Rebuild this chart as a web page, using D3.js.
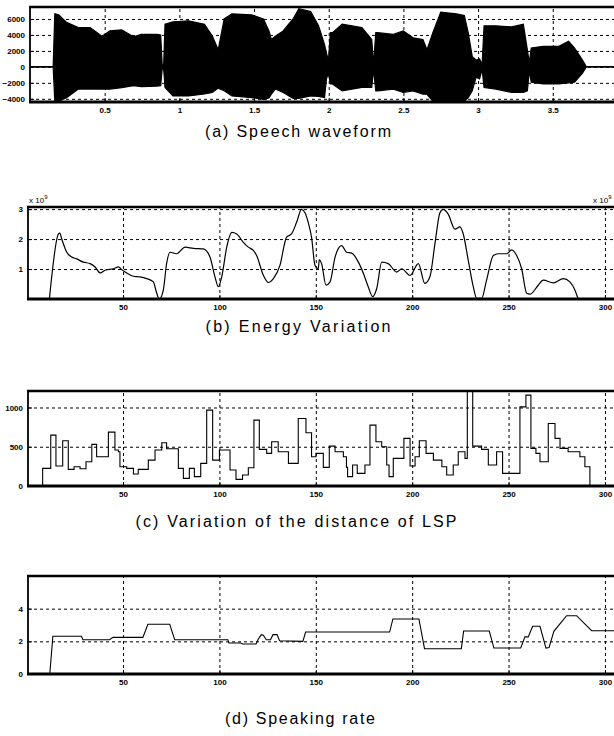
<!DOCTYPE html>
<html>
<head>
<meta charset="utf-8">
<script src="https://cdn.jsdelivr.net/npm/d3@7"></script>
<style>
  body { margin: 0; background: #fff; }
  svg { display: block; }
  .axis text { font-family: "Liberation Sans Narrow", "Liberation Sans", Arial, sans-serif; font-size: 8px; font-weight: bold; fill: #000; }
  .caption { font-family: "Liberation Sans", Arial, sans-serif; font-size: 16px; fill: #000; }
  .mult { font-family: "Liberation Sans", Arial, sans-serif; font-size: 8px; fill: #000; }
</style>
</head>
<body>
<svg id="chart" width="614" height="736"></svg>
<script>
// (a) speech waveform envelope: time (s), upper and lower amplitude
const waveTime  = [0, 0.15, 0.155, 0.166, 0.192, 0.245, 0.324, 0.403, 0.482, 0.535, 0.614, 0.693, 0.746, 0.851, 0.875, 0.885, 0.895,
  0.904, 0.957, 1.062, 1.168, 1.221, 1.26, 1.3, 1.352, 1.484, 1.563, 1.6, 1.616, 1.642, 1.695, 1.761, 1.8, 1.879, 1.932, 1.972, 1.985, 1.998,
  2.011, 2.025, 2.09, 2.222, 2.288, 2.3, 2.315, 2.328, 2.433, 2.499, 2.565, 2.631, 2.658, 2.697, 2.75, 2.855, 2.908, 2.934, 2.961, 2.987,
  3.01, 3.027, 3.04, 3.119, 3.224, 3.303, 3.33, 3.343, 3.356, 3.435, 3.541, 3.606, 3.646, 3.699, 3.725, 3.92];
const waveUpper = [0, 0, 0, 6640, 6510, 5570, 4930, 4930, 3850, 4500, 4630, 3770, 4070, 4070, 4000, 300, 300,
  5350, 5650, 5780, 5350, 3850, 2140, 6000, 6640, 6510, 6000, 4500, 3430, 3850, 4500, 6000, 7280, 6940, 5140, 2780, 1710, 800,
  4280, 4280, 5350, 4930, 3430, 300, 4280, 4280, 4070, 4500, 3640, 3430, 2140, 4280, 6850, 6640, 6420, 4280, 1280, 860,
  1000, 300, 5140, 5140, 5000, 5350, 2140, 500, 2360, 2570, 2570, 3210, 2360, 860, 0, 0];
const waveLower = [0, 0, 0, -4280, -4280, -3850, -2780, -2780, -2780, -2780, -2600, -2360, -2480, -2400, -2360, -300, -300,
  -2570, -3640, -3640, -3400, -3210, -2660, -3000, -3640, -3850, -4070, -3900, -3430, -2780, -3210, -3940, -3940, -3640, -3700, -3850, -1500, -800,
  -2140, -2140, -3000, -2570, -2570, -300, -3000, -3000, -2780, -3210, -3000, -3430, -3430, -4280, -4280, -4280, -4280, -3850, -3000, -1280,
  -1500, -300, -2570, -2780, -3210, -3210, -3000, -500, -1930, -2140, -2140, -2000, -1930, -800, 0, 0];
const waveXTicks = [0.5, 1, 1.5, 2, 2.5, 3, 3.5];
const waveYTicks = [-4000, -2000, 0, 2000, 4000, 6000];

// (b) energy (x 10^9) per frame
const energyFrame = [11.8, 16.5, 17.2, 18.2, 20.8, 23.4, 25.9, 29.4, 32.9, 35.5, 38.1, 40.7, 45, 47.6, 49.3, 51.9, 55.4, 58.8, 62.3, 65.7, 67.5, 68.8,
  70.9, 72.6, 74.4, 77.8, 82.2, 86.5, 91.7, 95.1, 97.7, 99.4, 101.2, 103.8, 106.4, 109, 112.4, 115, 117.6, 119.3, 122.8, 125.4, 128, 131.4,
  134.8, 137.4, 140, 142.6, 144.4, 146.1, 147.8, 149.6, 151.3, 151.8, 153, 155.3, 157.4, 160, 163.4, 166, 168.6, 172.1, 174.7, 177.2, 179.5,
  181.6, 184.2, 187.6, 192, 194.6, 198.9, 203.2, 206.6, 209.2, 211.8, 214.4, 216.1, 218.7, 222.2, 224.8, 226.5, 229.1, 231.7, 233.5, 236,
  238.6, 242.1, 244.7, 249, 251.6, 254.2, 256.8, 259.4, 261.1, 265.4, 268, 273.2, 278.4, 281.8, 284.4, 286.1];
const energyValue = [0, 2.17, 2.2, 2.0, 1.56, 1.4, 1.34, 1.23, 1.18, 1.07, 0.87, 0.96, 1.01, 1.07, 0.98, 0.87, 0.76, 0.74, 0.68, 0.57, 0.19, 0,
  0.3, 1.18, 1.56, 1.51, 1.73, 1.69, 1.67, 1.4, 0.74, 0.41, 0.74, 1.73, 2.22, 2.17, 1.89, 1.73, 1.62, 1.45, 0.79, 0.55, 0.68, 1.12,
  2.06, 2.17, 2.55, 2.99, 2.88, 2.55, 2.06, 1.12, 1.01, 1.31, 1.18, 0.46, 0.57, 1.4, 1.78, 1.56, 1.53, 1.23, 0.85, 0.41, 0.08,
  0.35, 1.23, 1.18, 0.9, 1.01, 0.79, 1.18, 0.52, 0.74, 1.84, 2.88, 2.99, 2.83, 2.33, 2.41, 2.17, 1.29, 0.41, 0.02, 0.02,
  0.63, 1.45, 1.51, 1.51, 1.64, 1.45, 1.01, 0.19, 0.16, 0.46, 0.63, 0.54, 0.68, 0.57, 0.3, 0];
const energyYTicks = [1, 2, 3];

// (c) LSP distance per frame (step values)
const lspFrame = [1, 8.3, 9.5, 12.5, 15.2, 18.7, 21.6, 24.6, 27.7, 30.8, 33.8, 36.3, 38.9, 42.4, 45.8, 47.6, 48.4, 51.9, 55.4, 57.9, 63.1,
  66.6, 70.1, 72.6, 78.7, 81.3, 84.4, 87, 90.3, 93.4, 96.5, 100, 105.5, 108.6, 112, 115, 117.9, 120.7, 124.5, 127.1, 130.5, 135.8, 140.9,
  144.9, 147.8, 150.1, 153.9, 157, 160, 164.3, 165.9, 166.5, 169.1, 171.5, 175.5, 178.1, 181.2, 184.2, 186.8, 188, 190.2, 195.7, 198.9,
  201.5, 203.7, 207.2, 211, 215.4, 217.9, 221.3, 223.9, 227.4, 228.6, 231.4, 236, 239.5, 243.8, 246.9, 255.9, 259, 261.6, 264.2, 266.3,
  270.6, 274.1, 276.7, 280.9, 287, 289.6, 292.2];
const lspValue = [0, 225, 225, 648, 254, 576, 212, 246, 220, 309, 530, 373, 373, 686, 458, 436, 246, 225, 153, 212, 330,
  458, 551, 475, 225, 97, 225, 119, 288, 966, 330, 458, 203, 85, 140, 233, 839, 466, 415, 564, 436, 288, 860,
  678, 373, 415, 237, 508, 436, 373, 237, 119, 267, 161, 267, 775, 564, 500, 267, 119, 352, 606, 254,
  373, 576, 415, 330, 246, 140, 267, 436, 352, 1210, 508, 466, 267, 436, 161, 1008, 1157, 479, 415, 309,
  797, 606, 479, 436, 373, 246, 0];
const lspYTicks = [0, 500, 1000];

// (d) speaking rate per frame
const rateFrame = [1, 12, 13.6, 28.4, 29.2, 43, 44.8, 60.3, 62.9, 74.2, 76.8, 104.4, 104.9, 111, 112.2, 119, 120, 121.7, 122.8, 124.3,
  126.5, 127.8, 129.9, 131.2, 143.3, 144.7, 188.3, 190, 203.5, 206.4, 225.5, 226.7, 240, 242.4, 256.3, 258.5, 260.2, 262.5, 266.3, 269.4,
  271, 273.5, 280.1, 285.3, 293.1, 305];
const rateValue = [0, 0, 2.31, 2.31, 2.1, 2.1, 2.24, 2.24, 3.05, 3.05, 2.1, 2.1, 1.9, 1.9, 1.84, 1.84, 2.1, 2.41, 2.38, 2.1,
  2.1, 2.41, 2.41, 2.04, 2.0, 2.57, 2.57, 3.37, 3.37, 1.55, 1.55, 2.63, 2.63, 1.59, 1.59, 2.27, 2.27, 2.92, 2.92, 1.59,
  1.62, 2.61, 3.57, 3.57, 2.65, 2.65];
const rateYTicks = [0, 2, 4];

const frameTicks = [50, 100, 150, 200, 250, 300];

const svg = d3.select("#chart");

function panel (cfg) {
  const g = svg.append("g");
  const x = d3.scaleLinear().domain(cfg.xDomain).range([cfg.left, cfg.right]);
  const y = d3.scaleLinear().domain(cfg.yDomain).range([cfg.bottom, cfg.top]);
  const h = cfg.bottom - cfg.top;
  const w = cfg.right - cfg.left;

  // dotted grid
  g.append("g").attr("transform", `translate(0,${cfg.bottom})`)
    .call(d3.axisBottom(x).tickValues(cfg.xTicks).tickSize(-h).tickFormat(""))
    .call(s => s.select(".domain").remove())
    .selectAll("line").attr("stroke", "#000").attr("stroke-dasharray", "3,3");
  g.append("g").attr("transform", `translate(${cfg.left},0)`)
    .call(d3.axisLeft(y).tickValues(cfg.yTicks.filter(v => v !== cfg.yDomain[0])).tickSize(-w).tickFormat(""))
    .call(s => s.select(".domain").remove())
    .selectAll("line").attr("stroke", "#000").attr("stroke-dasharray", "3,3");

  // tick labels with short inside ticks
  g.append("g").attr("class", "axis").attr("transform", `translate(0,${cfg.bottom})`)
    .call(d3.axisBottom(x).tickValues(cfg.xTicks).tickSize(-4).tickPadding(5).tickFormat(cfg.xFormat || d3.format("d")))
    .call(s => s.select(".domain").remove())
    .selectAll("line").attr("stroke", "#000");
  g.append("g").attr("class", "axis").attr("transform", `translate(${cfg.left},0)`)
    .call(d3.axisLeft(y).tickValues(cfg.yTicks).tickSize(-4).tickPadding(5).tickFormat(d3.format("d")))
    .call(s => s.select(".domain").remove())
    .selectAll("line").attr("stroke", "#000");

  const clipId = "clip-" + cfg.name;
  svg.append("clipPath").attr("id", clipId)
    .append("rect").attr("x", cfg.left).attr("y", cfg.top).attr("width", w).attr("height", h);
  const plot = svg.append("g").attr("clip-path", `url(#${clipId})`);

  return {g, plot, x, y, cfg};
}

function frame (p) {
  const c = p.cfg;
  const f = svg.append("g").attr("stroke", "#000").attr("fill", "none");
  f.append("line").attr("x1", c.left).attr("x2", c.left).attr("y1", c.top).attr("y2", c.bottom).attr("stroke-width", 1.8);
  f.append("line").attr("x1", c.left - 1).attr("x2", 614).attr("y1", c.top).attr("y2", c.top).attr("stroke-width", 2.4);
  f.append("line").attr("x1", c.left - 1).attr("x2", 614).attr("y1", c.bottom).attr("y2", c.bottom).attr("stroke-width", 3);
}

function caption (text, cx, cy, width) {
  svg.append("text").attr("class", "caption")
    .attr("x", cx).attr("y", cy).attr("text-anchor", "middle")
    .attr("textLength", width).attr("lengthAdjust", "spacing")
    .text(text);
}

// (a)
const pa = panel({name: "a", left: 30, right: 614, top: 7, bottom: 102,
  xDomain: [0, 3.91], yDomain: [-4400, 7500], xTicks: waveXTicks, yTicks: waveYTicks, xFormat: d3.format("")});
const wave = waveTime.map((t, i) => ({t, hi: waveUpper[i], lo: waveLower[i]}));
pa.plot.append("path").datum(wave)
  .attr("fill", "#000").attr("stroke", "#000").attr("stroke-width", 1.2)
  .attr("d", d3.area().x(d => pa.x(d.t)).y0(d => pa.y(d.lo)).y1(d => pa.y(d.hi)));
pa.plot.append("line").attr("x1", pa.x(0)).attr("x2", pa.x(3.91))
  .attr("y1", pa.y(0)).attr("y2", pa.y(0)).attr("stroke", "#000").attr("stroke-width", 1.5);
frame(pa);
caption("(a) Speech waveform", 298, 137, 186);

// (b)
const pb = panel({name: "b", left: 28, right: 614, top: 207, bottom: 299,
  xDomain: [0.7, 304.7], yDomain: [0, 3.07], xTicks: frameTicks, yTicks: energyYTicks});
pb.plot.append("path").datum(energyFrame.map((f, i) => [f, energyValue[i]]))
  .attr("fill", "none").attr("stroke", "#000").attr("stroke-width", 1.2)
  .attr("d", d3.line().x(d => pb.x(d[0])).y(d => pb.y(d[1])).curve(d3.curveMonotoneX));
frame(pb);
const m1 = svg.append("text").attr("class", "mult").attr("x", 29).attr("y", 203).text("x 10");
m1.append("tspan").attr("dy", -4).attr("font-size", 6).text("9");
const m2 = svg.append("text").attr("class", "mult").attr("x", 593).attr("y", 203).text("x 10");
m2.append("tspan").attr("dy", -4).attr("font-size", 6).text("9");
caption("(b) Energy Variation", 298, 332, 185);

// (c)
const pc = panel({name: "c", left: 28, right: 614, top: 391, bottom: 486,
  xDomain: [0.7, 304.7], yDomain: [0, 1210], xTicks: frameTicks, yTicks: lspYTicks});
pc.plot.append("path").datum(lspFrame.map((f, i) => [f, lspValue[i]]))
  .attr("fill", "none").attr("stroke", "#000").attr("stroke-width", 1.1)
  .attr("d", d3.line().x(d => pc.x(d[0])).y(d => pc.y(d[1])).curve(d3.curveStepAfter));
frame(pc);
caption("(c) Variation of the distance of LSP", 296, 527, 321);

// (d)
const pd = panel({name: "d", left: 28, right: 614, top: 576, bottom: 674,
  xDomain: [0.7, 304.7], yDomain: [0, 6], xTicks: frameTicks, yTicks: rateYTicks});
pd.plot.append("path").datum(rateFrame.map((f, i) => [f, rateValue[i]]))
  .attr("fill", "none").attr("stroke", "#000").attr("stroke-width", 1.1)
  .attr("d", d3.line().x(d => pd.x(d[0])).y(d => pd.y(d[1])));
frame(pd);
caption("(d) Speaking rate", 300, 724, 150);
</script>
</body>
</html>
